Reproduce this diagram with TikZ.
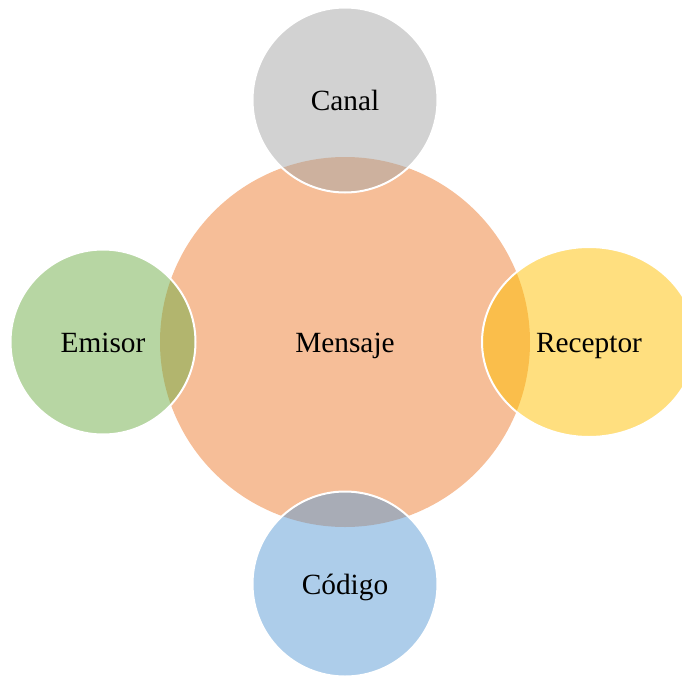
\documentclass[tikz,border=0pt]{standalone}
\usepackage{fontspec}
\setmainfont{Liberation Serif}
\usetikzlibrary{shapes.geometric}

\definecolor{orangeC}{HTML}{ED7D31}
\definecolor{greyC}{HTML}{A5A5A5}
\definecolor{greenC}{HTML}{70AD47}
\definecolor{yellowC}{HTML}{FFC000}
\definecolor{blueC}{HTML}{5B9BD5}

\begin{document}
\begin{tikzpicture}[x=0.75pt,y=-0.75pt,
    bubble/.style={circle,draw=white,line width=1.5pt,fill opacity=0.5,
      text opacity=1,inner sep=0pt,minimum size=138.75pt,
      text height=15pt,text depth=0pt,
      font=\fontsize{22}{26}\selectfont},
    hub/.style={bubble,draw=none,minimum size=277.5pt}]
      \useasboundingbox (0,0) rectangle (682,675);
      \clip (0,0) rectangle (682,675);
      \draw
        (345,342) node[hub,fill=orangeC] (mensaje){Mensaje};
      \draw
        (345,100) node[bubble,fill=greyC] (canal){Canal}
        (103,342) node[bubble,fill=greenC] (emisor){Emisor}
        (589,342) node[bubble,fill=yellowC,ellipse,minimum width=160.5pt,
          minimum height=142.5pt] (receptor){Receptor}
        (345,584) node[bubble,fill=blueC] (codigo){Código};

    \end{tikzpicture}
\end{document}
